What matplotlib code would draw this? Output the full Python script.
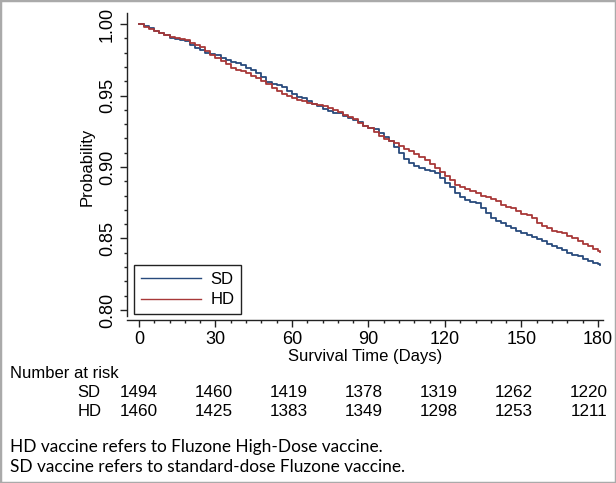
import matplotlib
matplotlib.use("Agg")
import matplotlib.pyplot as plt
from matplotlib.patches import Rectangle
from matplotlib.ticker import MultipleLocator
import matplotlib.transforms as mtransforms

# ---- data ----
sd_time = [0, 2, 4, 6, 8, 10, 12, 14, 16, 18, 20, 22, 24, 26, 28, 30, 32, 34, 36, 38,
           40, 42, 44, 46, 48, 50, 52, 54, 56, 58, 60, 62, 64, 66, 68, 70, 72, 74, 76, 78,
           80, 82, 84, 86, 88, 90, 92, 94, 96, 98, 100, 102, 104, 106, 108, 110, 112, 114,
           116, 118, 120, 122, 124, 126, 128, 130, 132, 134, 136, 138, 140, 142, 144, 146,
           148, 150, 152, 154, 156, 158, 160, 162, 164, 166, 168, 170, 172, 174, 176, 178,
           180, 181]
sd_surv = [1.000, 0.9985, 0.997, 0.995, 0.9935, 0.992, 0.9905, 0.9895, 0.989, 0.988,
           0.9855, 0.983, 0.9815, 0.980, 0.979, 0.978, 0.9765, 0.975, 0.9735, 0.9725,
           0.971, 0.9695, 0.968, 0.9655, 0.963, 0.9595, 0.958, 0.957, 0.956, 0.953,
           0.951, 0.949, 0.948, 0.946, 0.944, 0.943, 0.9405, 0.939, 0.938, 0.9375,
           0.936, 0.9345, 0.933, 0.9315, 0.929, 0.927, 0.9265, 0.924, 0.921, 0.9185,
           0.914, 0.910, 0.9055, 0.903, 0.901, 0.8995, 0.898, 0.897, 0.8955, 0.8925,
           0.889, 0.886, 0.882, 0.879, 0.877, 0.8755, 0.8745, 0.871, 0.868, 0.8645,
           0.8625, 0.8605, 0.859, 0.857, 0.8555, 0.854, 0.8525, 0.851, 0.8495, 0.848,
           0.8465, 0.845, 0.8435, 0.842, 0.840, 0.8385, 0.8375, 0.836, 0.8345, 0.833,
           0.8322, 0.8315]

hd_time = sd_time
hd_surv = [1.000, 0.998, 0.9965, 0.995, 0.9935, 0.9925, 0.991, 0.990, 0.9895, 0.989,
           0.987, 0.9855, 0.984, 0.981, 0.9785, 0.976, 0.974, 0.972, 0.9695, 0.968,
           0.967, 0.9655, 0.9635, 0.962, 0.960, 0.958, 0.9555, 0.953, 0.951, 0.9495,
           0.948, 0.947, 0.946, 0.945, 0.944, 0.9435, 0.9425, 0.941, 0.940, 0.9385,
           0.9365, 0.935, 0.9335, 0.931, 0.929, 0.927, 0.9245, 0.9215, 0.9195, 0.918,
           0.9165, 0.915, 0.9125, 0.911, 0.909, 0.907, 0.905, 0.902, 0.899, 0.8965,
           0.894, 0.891, 0.8875, 0.886, 0.8845, 0.883, 0.8815, 0.880, 0.879, 0.8775,
           0.876, 0.8735, 0.872, 0.871, 0.869, 0.867, 0.8665, 0.864, 0.861, 0.859,
           0.857, 0.8555, 0.8545, 0.8535, 0.852, 0.850, 0.848, 0.8465, 0.845, 0.8425,
           0.841, 0.8405]

risk_times = [0, 30, 60, 90, 120, 150, 180]
risk_sd = [1494, 1460, 1419, 1378, 1319, 1262, 1220]
risk_hd = [1460, 1425, 1383, 1349, 1298, 1253, 1211]

x_ticks = [0, 30, 60, 90, 120, 150, 180]
y_ticks = [0.80, 0.85, 0.90, 0.95, 1.00]

footnotes = ["HD vaccine refers to Fluzone High-Dose vaccine.",
             "SD vaccine refers to standard-dose Fluzone vaccine."]

SD_COLOR = "#284a7c"
HD_COLOR = "#a83838"

plt.rcParams['font.family'] = ['Liberation Sans', 'DejaVu Sans']

W, H = 616, 483
fig = plt.figure(figsize=(W / 100, H / 100), dpi=100)
fig.patches.append(Rectangle((0, 0), 1, 1, transform=fig.transFigure,
                             facecolor='none', edgecolor='#aaaaaa', linewidth=2.5))

ax_l, ax_r, ax_t, ax_b = 127, 603, 13, 320
ax = fig.add_axes([ax_l / W, 1 - ax_b / H, (ax_r - ax_l) / W, (ax_b - ax_t) / H])

ax.plot(sd_time, sd_surv, drawstyle='steps-post', color=SD_COLOR, lw=1.3, label='SD')
ax.plot(hd_time, hd_surv, drawstyle='steps-post', color=HD_COLOR, lw=1.3, label='HD')

ax.set_xlim(-4.7, 182.0)
ax.set_ylim(0.793, 1.0077)
for s in ['top', 'right']:
    ax.spines[s].set_visible(False)
for s in ['left', 'bottom']:
    ax.spines[s].set_color('#222222')
    ax.spines[s].set_linewidth(1.0)
ax.spines['left'].set_bounds(0.7958, 1.0077)

ax.set_xticks(x_ticks)
ax.set_xticklabels([str(t) for t in x_ticks])
ax.xaxis.set_minor_locator(MultipleLocator(6))
ax.set_yticks(y_ticks)
ax.set_yticklabels([f"{t:.2f}" for t in y_ticks], rotation=90, va='center')
ax.yaxis.set_minor_locator(MultipleLocator(0.01))
ax.tick_params(axis='both', which='major', length=5, width=1, color='#222222',
               labelsize=13, pad=3)
ax.tick_params(axis='both', which='minor', length=2.5, width=1, color='#222222')

ax.set_xlabel("Survival Time (Days)", fontsize=12, labelpad=1)
ax.set_ylabel("Probability", fontsize=12, labelpad=3)

leg = ax.legend(loc='lower left', bbox_to_anchor=(0.0147, 0.0195), borderaxespad=0,
                fontsize=12, frameon=True, fancybox=False, framealpha=1,
                edgecolor='#222222', handlelength=3.6, handletextpad=0.6,
                labelspacing=0.35, borderpad=0.4)
leg.get_frame().set_linewidth(1.0)
for ln in leg.get_lines():
    ln.set_linewidth(1.0)

# Number at risk table
trans = mtransforms.blended_transform_factory(ax.transData, fig.transFigure)
fig.text(10 / W, 1 - 374 / H, "Number at risk", fontsize=12, va='center', ha='left')
fig.text(100 / W, 1 - 392.5 / H, "SD", fontsize=12, va='center', ha='right')
fig.text(101.5 / W, 1 - 411.5 / H, "HD", fontsize=12, va='center', ha='right')
for t, a, b in zip(risk_times, risk_sd, risk_hd):
    xx = t * 0.98
    ax.text(xx, 1 - 392.5 / H, str(a), transform=trans, fontsize=12.3, ha='center',
            va='center', clip_on=False)
    ax.text(xx, 1 - 411.5 / H, str(b), transform=trans, fontsize=12.3, ha='center',
            va='center', clip_on=False)

fig.text(10 / W, 1 - 447 / H, footnotes[0], fontsize=12.4, va='center', ha='left',
         family=['Lato', 'DejaVu Sans'])
fig.text(10 / W, 1 - 467 / H, footnotes[1], fontsize=12.4, va='center', ha='left',
         family=['Lato', 'DejaVu Sans'])

fig.savefig("out.png", dpi=100)
